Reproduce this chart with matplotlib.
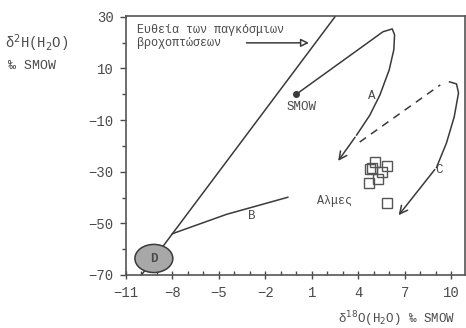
import matplotlib
matplotlib.use("Agg")
import matplotlib.pyplot as plt
from matplotlib.patches import Ellipse
import numpy as np

plt.rcParams['font.family'] = ['Liberation Mono', 'DejaVu Sans Mono']

# global meteoric water line endpoints (d18O)
gmwl_x = [-10.0, 2.5]
gmwl_slope, gmwl_icpt = 8, 10

# curve A (starts at SMOW)
a_x = [0.0, 2.8, 5.6, 6.2, 6.35, 6.3, 6.0, 5.4, 4.75, 3.9, 2.6]
a_y = [0.0, 12.1, 24.2, 25.3, 23.0, 17.2, 9.4, -0.3, -8.1, -15.8, -26.7]

# line B
b_x = [-8.0, -4.5, -0.55]
b_y = [-54.0, -46.5, -39.9]

# curve C: dashed part then solid part
cd_x = [4.1, 9.3]
cd_y = [-18.5, 3.6]
c_x = [9.9, 10.35, 10.48, 10.2, 9.7, 9.06, 6.5]
c_y = [4.8, 4.0, 0.5, -8.8, -18.9, -28.3, -47.7]

# springs (Αλμες)
spr_x = [5.06, 4.74, 5.84, 5.52, 5.26, 4.68, 5.84, 4.9]
spr_y = [-26.3, -29.0, -27.9, -30.2, -32.9, -34.5, -42.2, -28.6]

xticks = [-11, -8, -5, -2, 1, 4, 7, 10]
yticks = [30, 10, -10, -30, -50, -70]

lc = '#3a3a3a'
tc = '#4a4a4a'

fig = plt.figure(figsize=(4.66, 3.28), dpi=100)
ax = fig.add_axes([0.2704, 0.1616, 0.7275, 0.7896])

gx = np.array(gmwl_x)
ax.plot(gx, gmwl_slope*gx + gmwl_icpt, color=lc, lw=1.1)
ax.plot(a_x[:-1], a_y[:-1], color=lc, lw=1.1)
ax.annotate('', xy=(a_x[-1], a_y[-1]), xytext=(a_x[-2], a_y[-2]),
            arrowprops=dict(arrowstyle='->', color=lc, lw=1.1, mutation_scale=14))
ax.plot(0, 0, 'o', color=lc, ms=4)
ax.plot(b_x, b_y, color=lc, lw=1.1)
ax.plot(cd_x, cd_y, color=lc, lw=1.1, dashes=(5, 4))
ax.plot(c_x[:-1], c_y[:-1], color=lc, lw=1.1)
ax.annotate('', xy=(c_x[-1], c_y[-1]), xytext=(c_x[-2], c_y[-2]),
            arrowprops=dict(arrowstyle='->', color=lc, lw=1.1, mutation_scale=14))
ax.plot(spr_x, spr_y, 's', ms=7, mfc='none', mec='#555555', mew=1.0)

ax.add_patch(Ellipse((-9.2, -63.6), 2.45, 10.9, facecolor='#a8a8a8',
                     edgecolor=lc, lw=1.1, zorder=3))
ax.text(-9.2, -63.8, 'D', ha='center', va='center', fontsize=9,
        color=tc, fontweight='bold', zorder=4)

ax.text(-10.3, 24.9, 'Ευθεία των παγκόσμιων', fontsize=8.5, color=tc, va='center')
ax.text(-10.3, 19.9, 'βροχοπτώσεων', fontsize=8.5, color=tc, va='center')
ax.annotate('', xy=(1.0, 19.9), xytext=(-3.4, 19.9),
            arrowprops=dict(arrowstyle='-|>', color=lc, lw=1.1,
                            fc='white', mutation_scale=12))
ax.text(0.35, -5.0, 'SMOW', fontsize=9, color=tc, ha='center', va='center')
ax.text(4.87, -0.5, 'A', fontsize=9, color=tc, ha='center', va='center')
ax.text(-2.87, -47.0, 'B', fontsize=9, color=tc, ha='center', va='center')
ax.text(9.25, -29.4, 'C', fontsize=9, color=tc, ha='center', va='center')
ax.text(3.6, -41.5, 'Αλμες', fontsize=8.5, color=tc, ha='right', va='center')

ax.set_xlim(-11, 10.9)
ax.set_ylim(-70, 30.3)
ax.set_xticks(xticks)
ax.set_xticks(range(-11, 11), minor=True)
ax.set_yticks(yticks)
ax.set_yticks(range(-60, 30, 20), minor=True)
ax.set_xticklabels([str(t).replace('-', '\u2212') for t in xticks])
ax.set_yticklabels([str(t).replace('-', '\u2212') for t in yticks])
ax.tick_params(axis='x', which='major', direction='inout', length=6, width=1,
               labelsize=10, pad=5, colors=tc)
ax.tick_params(axis='x', which='minor', direction='in', length=3, width=1, colors=tc)
ax.tick_params(axis='y', which='major', direction='out', length=4, width=1,
               labelsize=10, pad=5, colors=tc)
ax.tick_params(axis='y', which='minor', direction='out', length=3, width=1, colors=tc)
for s in ax.spines.values():
    s.set_color('#555555')
    s.set_linewidth(1.2)

fig.text(5/466, 1 - 43/328, 'δ$^2$H(H$_2$O)', fontsize=10, color=tc, va='center')
fig.text(8/466, 1 - 66/328, '‰ SMOW', fontsize=9.5, color=tc, va='center')
fig.text(455/466, 1 - 319/328, 'δ$^{18}$O(H$_2$O) ‰ SMOW', fontsize=9, color=tc,
         va='center', ha='right')

fig.savefig('out.png', dpi=100, facecolor='w')
